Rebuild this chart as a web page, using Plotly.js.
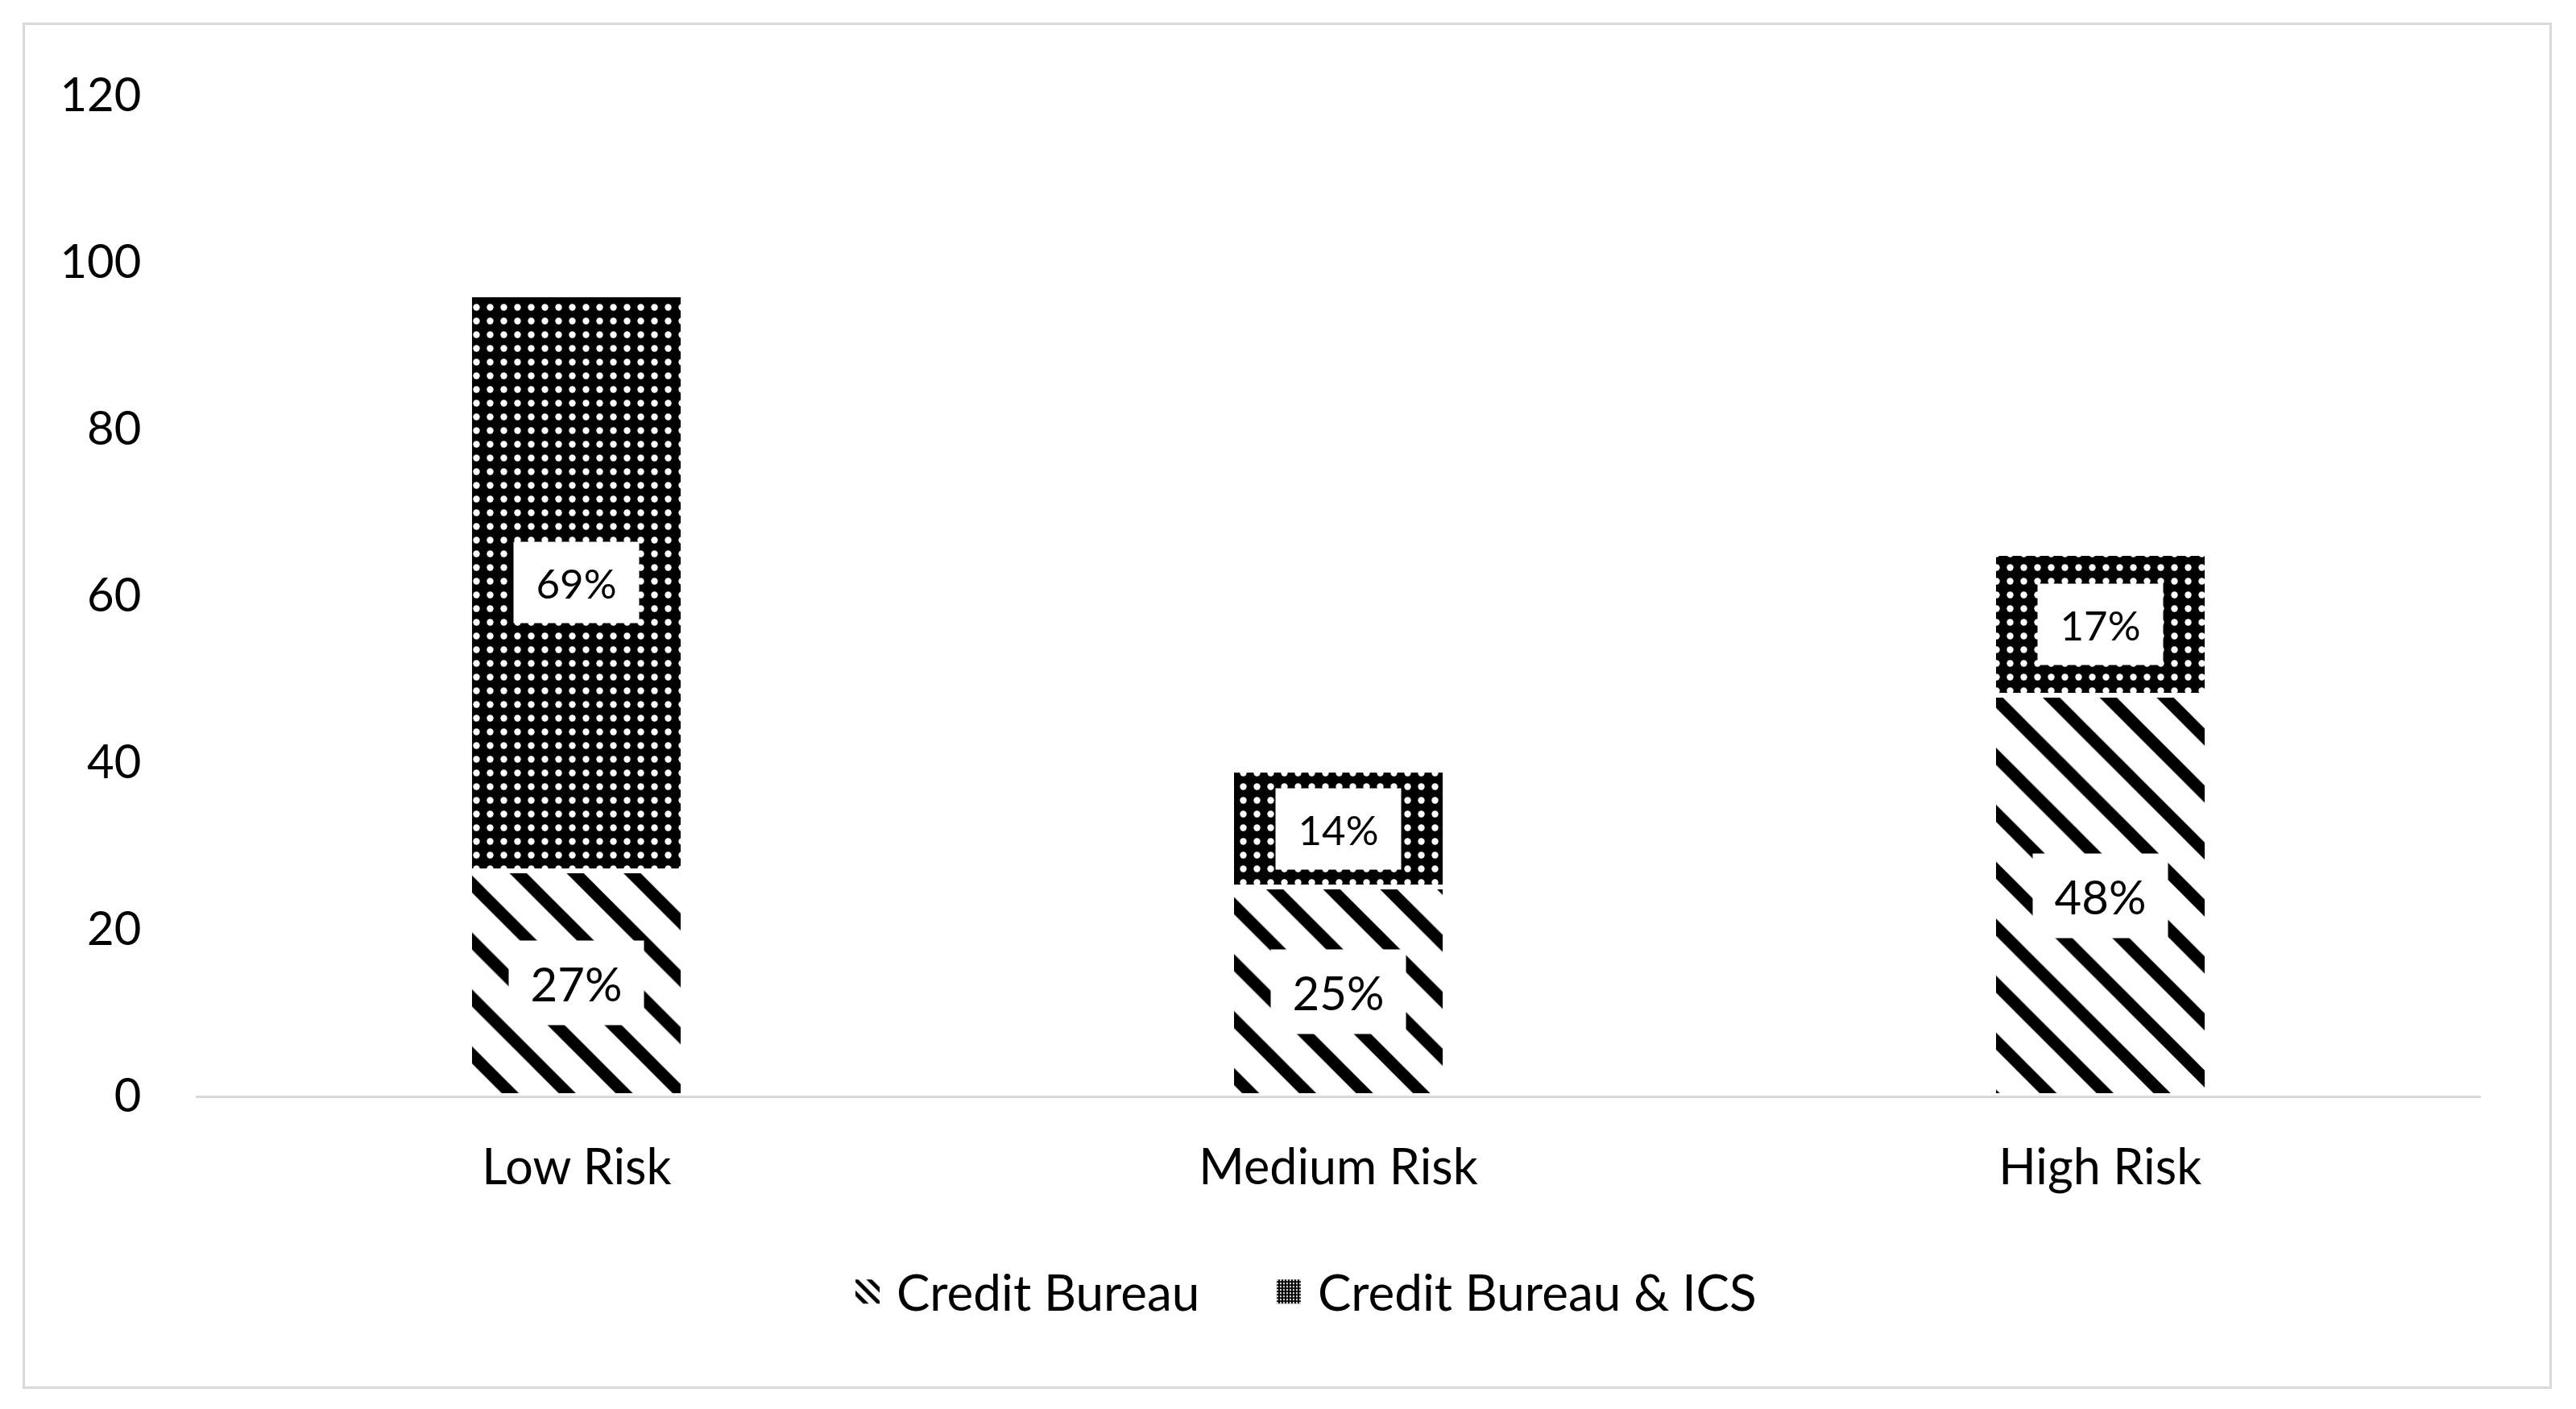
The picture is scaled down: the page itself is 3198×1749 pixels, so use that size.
<!DOCTYPE html>
<html>
<head>
<meta charset="utf-8">
<script src="https://cdn.plot.ly/plotly-3.0.1.min.js"></script>
<style>
  body { margin: 0; background: #fff; }
  #wrap { position: relative; width: 3198px; height: 1749px; }
  #chart { width: 3198px; height: 1749px; }
  #frame { position: absolute; left: 28px; top: 28px; width: 3134px; height: 1690px;
           border: 3px solid #d9d9d9; pointer-events: none; }
</style>
</head>
<body>
<div id="wrap">
  <div id="chart"></div>
  <div id="frame"></div>
</div>
<script>
const categories = ['Low Risk', 'Medium Risk', 'High Risk'];
const creditBureau = [27, 25, 48];
const creditBureauICS = [69, 14, 17];
const yTicks = [0, 20, 40, 60, 80, 100, 120];

const fontFamily = 'Lato, "Open Sans", sans-serif';

const stripes = { shape: '\\', fgcolor: 'black', bgcolor: 'white', size: 50, solidity: 0.3 };
const dots = { shape: '.', fgcolor: 'white', bgcolor: 'black', size: 17, solidity: 0.19 };

const traces = [
  {
    type: 'bar',
    name: 'Credit Bureau',
    x: categories,
    y: creditBureau,
    showlegend: false,
    marker: { color: 'white', line: { color: 'white', width: 6 }, pattern: stripes },
    hoverinfo: 'x+y+name'
  },
  {
    type: 'bar',
    name: 'Credit Bureau & ICS',
    x: categories,
    y: creditBureauICS,
    showlegend: false,
    marker: { color: 'black', line: { color: 'white', width: 6 }, pattern: dots },
    hoverinfo: 'x+y+name'
  },
  // legend-only entries (no white outline, finer pattern for the small swatch)
  {
    type: 'bar', name: 'Credit Bureau', x: [categories[0]], y: [null],
    legend: 'legend',
    marker: { color: 'white', line: { width: 0 }, pattern: Object.assign({}, stripes, { size: 6, solidity: 0.4 }) },
    hoverinfo: 'skip'
  },
  {
    type: 'bar', name: 'Credit Bureau & ICS', x: [categories[0]], y: [null],
    legend: 'legend2',
    marker: { color: 'black', line: { width: 0 }, pattern: Object.assign({}, dots, { size: 2, solidity: 0.25 }) },
    hoverinfo: 'skip'
  }
];

// white boxed percentage labels centred in each segment
const annotations = [];
categories.forEach((c, i) => {
  annotations.push({
    x: c, y: creditBureau[i] / 2,
    text: creditBureau[i] + '%',
    showarrow: false,
    bgcolor: 'white',
    width: 165, height: 102,
    font: { family: fontFamily, size: 58, color: 'black' }
  });
  annotations.push({
    x: c, y: creditBureau[i] + creditBureauICS[i] / 2,
    text: creditBureauICS[i] + '%',
    showarrow: false,
    bgcolor: 'white',
    width: 153, height: 98,
    font: { family: fontFamily, size: 51, color: 'black' }
  });
});

const legendBase = {
  orientation: 'h',
  xanchor: 'left',
  y: -0.196,
  yanchor: 'middle',
  itemwidth: 62,
  font: { family: fontFamily, size: 62, color: 'black' }
};

Plotly.newPlot('chart', traces, {
  width: 3198,
  height: 1749,
  barmode: 'stack',
  bargap: 0.72,
  paper_bgcolor: 'white',
  plot_bgcolor: 'white',
  font: { family: fontFamily, size: 58, color: 'black' },
  margin: { l: 243, r: 118, t: 118, b: 389 },
  xaxis: {
    type: 'category',
    showline: true,
    linecolor: '#d9d9d9',
    linewidth: 3,
    showgrid: false,
    ticks: 'outside',
    ticklen: 34,
    tickcolor: 'rgba(0,0,0,0)',
    tickfont: { family: fontFamily, size: 61, color: 'black' }
  },
  yaxis: {
    range: [0, 120],
    tickvals: yTicks,
    showgrid: false,
    zeroline: false,
    showline: false,
    ticks: 'outside',
    ticklen: 55,
    tickcolor: 'rgba(0,0,0,0)',
    tickfont: { family: fontFamily, size: 58, color: 'black' }
  },
  legend: Object.assign({}, legendBase, { x: 0.2813 }),
  legend2: Object.assign({}, legendBase, { x: 0.4656 }),
  annotations: annotations
}, { displayModeBar: false }).then(gd => {
  // enlarge the 12px legend swatches to about 30px
  gd.querySelectorAll('.legendpoints path').forEach(p => {
    const t = p.getAttribute('transform') || '';
    p.setAttribute('transform', t + ' scale(2.5)');
  });
});
</script>
</body>
</html>
